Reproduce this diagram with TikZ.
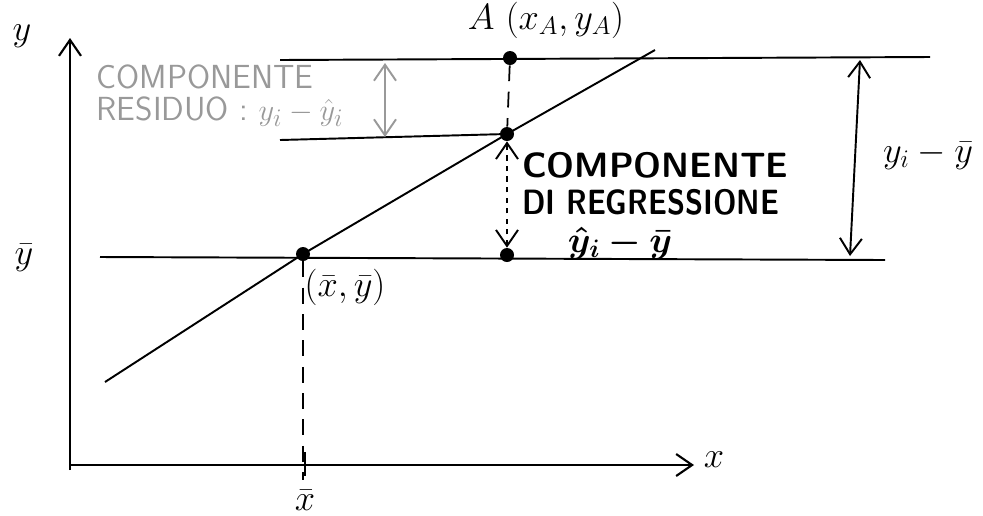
\documentclass[tikz,border=0pt]{standalone}
\usepackage{bm}
\usetikzlibrary{arrows.meta}
\begin{document}
\begin{tikzpicture}[x=0.02cm, y=-0.02cm,
      tip/.style={-{Straight Barb[length=3.2mm,width=4.4mm]}},
      axis/.style={tip,line width=1.2pt},
      ln/.style={line width=1.1pt},
      guide/.style={dashed,line width=1pt,dash pattern=on 9pt off 6pt},
      dbl/.style={{Straight Barb[length=3.2mm,width=4.4mm]}-{Straight Barb[length=3.2mm,width=4.4mm]},line width=1.1pt},
      dot/.style={circle,fill,inner sep=0pt,minimum size=0.28cm},
      lab/.style={font=\fontsize{21}{24}\selectfont},
      resid/.style={text=black!40,font=\fontsize{19}{22}\selectfont\sffamily,align=left},
      regr/.style={font=\fontsize{20}{21}\selectfont\sffamily\bfseries,align=left}
    ]
      \useasboundingbox (0,0) rectangle (983,515);

      % axes
      \coordinate (O) at (70,470);
      \coordinate (ytop) at (70,38);
      \coordinate (xorg) at (70,465);
      \coordinate (xend) at (694,465);
      \draw[axis] (O) -- (ytop);
      \draw[axis] (xorg) -- (xend);
      \node[lab] (ylab) at (22,36) {$y$};
      \node[lab] (xlab) at (714,460) {$x$};

      % points
      \node[dot] (M) at (303,254) {};
      \node[dot] (A) at (510,58) {};
      \node[dot] (P) at (507,134) {};
      \node[dot] (Q) at (507,255) {};
      \coordinate (r1) at (105,382);
      \coordinate (r2) at (655,50);

      % horizontal levels
      \coordinate (top1) at (280,60);
      \coordinate (top2) at (930,57);
      \coordinate (mid1) at (280,140);
      \coordinate (bar1) at (100,257);
      \coordinate (bar2) at (885,260);
      \draw[ln] (top1) -- (top2);
      \draw[ln] (mid1) -- (P.center);
      \draw[ln] (bar1) -- (bar2);

      % regression line
      \draw[ln] (r1) -- (M.center) -- (P.center) -- (r2);

      % guides
      \coordinate (xtk) at (303,480);
      \coordinate (tk1) at (305,452);
      \coordinate (tk2) at (305,476);
      \draw[guide] (M) -- (xtk);
      \draw[line width=1.4pt] (tk1) -- (tk2);
      \draw[guide] (A) -- (P);
      \draw[dbl,dashed] (Q) -- (P);

      % labels
      \node[lab] (ybar) at (24,258) {$\bar{y}$};
      \node[lab] (xbar) at (305,500) {$\bar{x}$};
      \node[lab] (Mlab) at (345,287) {$(\bar{x},\bar{y})$};
      \node[lab] (Alab) at (546,20) {$A\ (x_A,y_A)$};

      % total deviation
      \coordinate (t1) at (860,60);
      \coordinate (t2) at (850,256);
      \draw[dbl] (t2) -- (t1);
      \node[lab] (tlab) at (928,155) {$y_i-\bar{y}$};

      % residual component
      \coordinate (e1) at (385,63);
      \coordinate (e2) at (385,137);
      \draw[dbl,black!40] (e2) -- (e1);
      \node[resid] (rlab) at (220,96) {COMPONENTE\\[-4pt]RESIDUO : $y_i-\hat{y}_i$};

      % regression component
      \node[regr,anchor=north west] (glab) at (516,146) {COMPONENTE\\\scalebox{0.84}[1]{\sffamily\bfseries DI REGRESSIONE}};
      \node[lab,anchor=base] (glab2) at (620,252) {$\bm{\hat{y}_i-\bar{y}}$};
    \end{tikzpicture}
\end{document}
